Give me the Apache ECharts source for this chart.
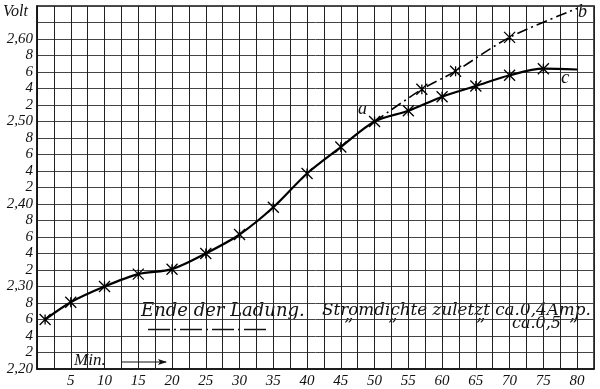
<!DOCTYPE html>
<html>
<head>
<meta charset="utf-8">
<script src="https://cdn.jsdelivr.net/npm/echarts@6/dist/echarts.min.js"></script>
<style>
html,body{margin:0;padding:0;background:#fff;}
#c{width:600px;height:389px;}
</style>
</head>
<body>
<div id="c"></div>
<script>
// Charge curve up to point a, then curve c (ca. 0,4 Amp)
const minutesMain = [1.2, 5, 10, 15, 20, 25, 30, 35, 40, 45, 50, 55, 60, 65, 70, 75, 80];
const voltsMain   = [2.26, 2.281, 2.30, 2.315, 2.321, 2.34, 2.363, 2.396, 2.437, 2.469, 2.50, 2.513, 2.530, 2.543, 2.556, 2.564, 2.563];
// Curve b (ca. 0,5 Amp), branching at a
const minutesB = [50, 57, 62, 70, 80];
const voltsB   = [2.50, 2.539, 2.561, 2.602, 2.637];
// Points without a cross marker
const plainMain = [80];
const plainB = [50, 80];
// Axis tick labels
const xTickLabels = [5, 10, 15, 20, 25, 30, 35, 40, 45, 50, 55, 60, 65, 70, 75, 80];

const FONT = 'Liberation Serif';
const MARK = 'path://M0,0L10,10M0,10L10,0M5,0.5L5,9.5';

function buildData(xs, ys, plain) {
  return xs.map((x, i) => {
    const item = { value: [x, ys[i]] };
    if (plain.indexOf(x) >= 0) item.symbol = 'none';
    return item;
  });
}

const chart = echarts.init(document.getElementById('c'), null, { renderer: 'canvas' });

chart.setOption({
  animation: false,
  backgroundColor: '#fff',
  grid: { left: 37, right: 6, top: 6, bottom: 19, show: true, borderColor: '#111', borderWidth: 1.5, backgroundColor: 'transparent' },
  xAxis: {
    type: 'value', min: 0, max: 82.5, interval: 2.5,
    axisLine: { show: true, lineStyle: { color: '#111', width: 1.5 } },
    axisTick: { show: false },
    splitLine: { show: true, lineStyle: { color: '#222', width: 1 } },
    axisLabel: {
      margin: 5, color: '#111', fontFamily: FONT, fontStyle: 'italic', fontSize: 15,
      formatter: v => (xTickLabels.indexOf(v) >= 0 ? String(v) : '')
    }
  },
  yAxis: {
    type: 'value', min: 2.20, max: 2.64, interval: 0.02,
    axisLine: { show: true, lineStyle: { color: '#111', width: 1.5 } },
    axisTick: { show: false },
    splitLine: { show: true, lineStyle: { color: '#444', width: 1 } },
    axisLabel: {
      margin: 4, color: '#111', fontFamily: FONT, fontStyle: 'italic', fontSize: 15,
      padding: [0, 0, 5, 0],
      formatter: v => {
        const c = Math.round(v * 100);
        if (c >= 262) return '';
        if (c % 10 === 0) return '2,' + String(c - 200);
        return String(c % 10);
      }
    }
  },
  series: [
    {
      type: 'line', name: 'c', smooth: 0.3,
      data: buildData(minutesMain, voltsMain, plainMain),
      symbol: MARK, symbolSize: 11, symbolKeepAspect: true,
      itemStyle: { color: '#000', borderColor: '#000', borderWidth: 1.3 },
      lineStyle: { color: '#000', width: 2.2 },
      z: 3
    },
    {
      type: 'line', name: 'b', smooth: 0.3,
      data: buildData(minutesB, voltsB, plainB),
      symbol: MARK, symbolSize: 11, symbolKeepAspect: true,
      itemStyle: { color: '#000', borderColor: '#000', borderWidth: 1.3 },
      lineStyle: { color: '#000', width: 1.6, type: [11, 4, 2, 4] },
      z: 3
    }
  ],
  graphic: [
    { type: 'text', left: 3, top: 4, style: { text: 'Volt', font: 'italic 16px "Liberation Serif"', fill: '#111' } },
    { type: 'text', x: 358, y: 100, style: { text: 'a', font: 'italic 18px "Liberation Serif"', fill: '#111' } },
    { type: 'text', x: 578, y: 3, style: { text: 'b', font: 'italic 18px "Liberation Serif"', fill: '#111' } },
    { type: 'text', x: 561, y: 68, style: { text: 'c', font: 'italic 19px "Liberation Serif"', fill: '#111' } },
    { type: 'text', x: 141, y: 302, style: { text: 'Ende der Ladung.', font: 'italic 18px "DejaVu Serif"', fill: '#111' } },
    { type: 'text', x: 322, y: 302, style: { text: 'Stromdichte zuletzt ca.0,4Amp.', font: 'italic 16.8px "DejaVu Serif"', fill: '#111' } },
    { type: 'line', shape: { x1: 148, y1: 329.5, x2: 270, y2: 329.5 }, style: { stroke: '#111', lineWidth: 1.3, lineDash: [22, 4, 2, 4] } },
    { type: 'text', x: 344, y: 318, style: { text: '\u201D', font: 'italic 18px "DejaVu Serif"', fill: '#111' } },
    { type: 'text', x: 388, y: 318, style: { text: '\u201D', font: 'italic 18px "DejaVu Serif"', fill: '#111' } },
    { type: 'text', x: 476, y: 318, style: { text: '\u201D', font: 'italic 18px "DejaVu Serif"', fill: '#111' } },
    { type: 'text', x: 512, y: 316, style: { text: 'ca.0,5', font: 'italic 16px "DejaVu Serif"', fill: '#111' } },
    { type: 'text', x: 569, y: 318, style: { text: '\u201D', font: 'italic 18px "DejaVu Serif"', fill: '#111' } },
    { type: 'text', x: 74, y: 352, style: { text: 'Min.', font: 'italic 17px "Liberation Serif"', fill: '#111' } },
    { type: 'line', shape: { x1: 122, y1: 362, x2: 166, y2: 362 }, style: { stroke: '#111', lineWidth: 1.2 } },
    { type: 'polygon', shape: { points: [[167, 362], [158, 359], [160, 362], [158, 365]] }, style: { fill: '#111' } }
  ]
});
</script>
</body>
</html>
